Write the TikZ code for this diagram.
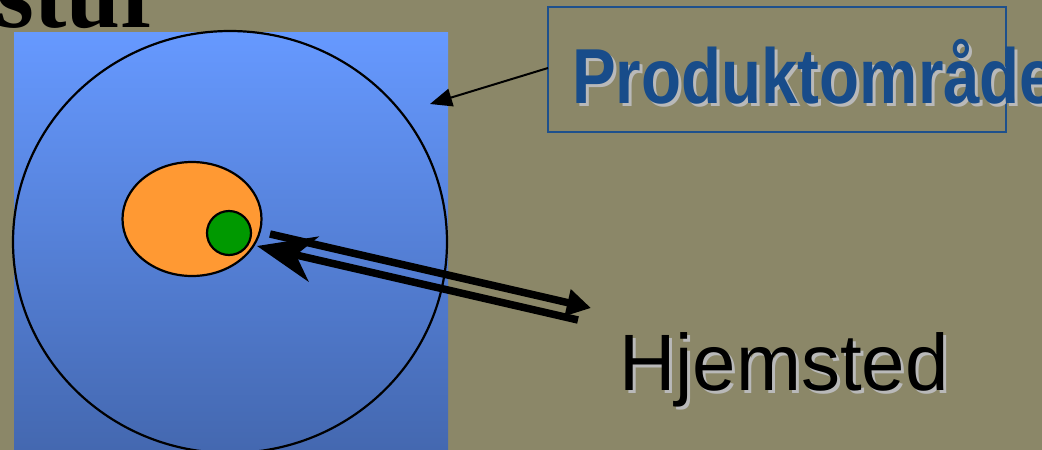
\documentclass[tikz,border=0pt]{standalone}
\usepackage{fontspec}
\setmainfont{Liberation Serif}
\setsansfont{Liberation Sans}
\usetikzlibrary{arrows.meta,shapes.geometric}
\definecolor{bg}{RGB}{139,135,104}
\definecolor{bluetop}{RGB}{102,153,255}
\definecolor{bluebot}{RGB}{68,104,176}
\definecolor{orangefill}{RGB}{255,153,51}
\definecolor{greenfill}{RGB}{0,153,0}
\definecolor{boxblue}{RGB}{30,80,140}
\definecolor{textblue}{RGB}{24,76,138}
\definecolor{shadowgray}{RGB}{185,185,185}
\tikzset{
  outline/.style={draw=black, line width=2.2pt},
  fatarrow/.style={line width=7.5pt, draw=black},
}
\begin{document}
\begin{tikzpicture}[x=1pt,y=-1pt]
\useasboundingbox (0,0) rectangle (1042,450);
\clip (0,0) rectangle (1042,450);
\fill[bg] (0,0) rectangle (1042,450);
% title fragment
\node[anchor=base east, inner sep=0pt, font=\fontsize{97}{97}\selectfont\bfseries] (title) at (164,27) {stur};
% blue gradient rectangle
\shade[top color=bluetop, bottom color=bluebot] (14,32) rectangle (448,450);
% big circle
\node[outline, ellipse, minimum width=434pt, minimum height=422pt, inner sep=0pt] (big) at (230,242) {};
% orange ellipse
\node[outline, fill=orangefill, ellipse, minimum width=139pt, minimum height=114pt, inner sep=0pt] (orange) at (192,219) {};
% green circle
\node[outline, fill=greenfill, circle, minimum size=44pt, inner sep=0pt] (green) at (229,233) {};
% Produktomraade box
\node[draw=boxblue, line width=2.2pt, minimum width=458pt, minimum height=125pt, inner sep=0pt] (box) at (777,69.5) {};
\node[anchor=base west, inner sep=0pt, text=shadowgray, font=\fontsize{78}{78}\selectfont\sffamily\bfseries] at (575,106) {\scalebox{0.84}[1]{Produktområde}};
\node[anchor=base west, inner sep=0pt, text=textblue, font=\fontsize{78}{78}\selectfont\sffamily\bfseries] (prod) at (572,103) {\scalebox{0.84}[1]{Produktområde}};
% Hjemsted
\node[anchor=base west, inner sep=0pt, text=shadowgray, font=\fontsize{80}{80}\selectfont\sffamily] at (622,393) {\scalebox{0.975}[1]{Hjemsted}};
\node[anchor=base west, inner sep=0pt, text=black, font=\fontsize{80}{80}\selectfont\sffamily] (hjem) at (619,390) {\scalebox{0.975}[1]{Hjemsted}};
% connectors
\coordinate (pA) at (548,68);
\coordinate (pB) at (430,104);
\draw[line width=2pt, -{Triangle[length=22pt,width=18pt]}] (pA) -- (pB);
\coordinate (a1s) at (270,234);
\coordinate (a1e) at (591,308);
\draw[fatarrow, -{Triangle[length=24pt,width=26pt]}] (a1s) -- (a1e);
\coordinate (a2s) at (578,320);
\coordinate (a2e) at (257,246);
\draw[fatarrow, -{Stealth[length=58pt,width=46pt,inset=18pt]}] (a2s) -- (a2e);
\end{tikzpicture}
\end{document}
